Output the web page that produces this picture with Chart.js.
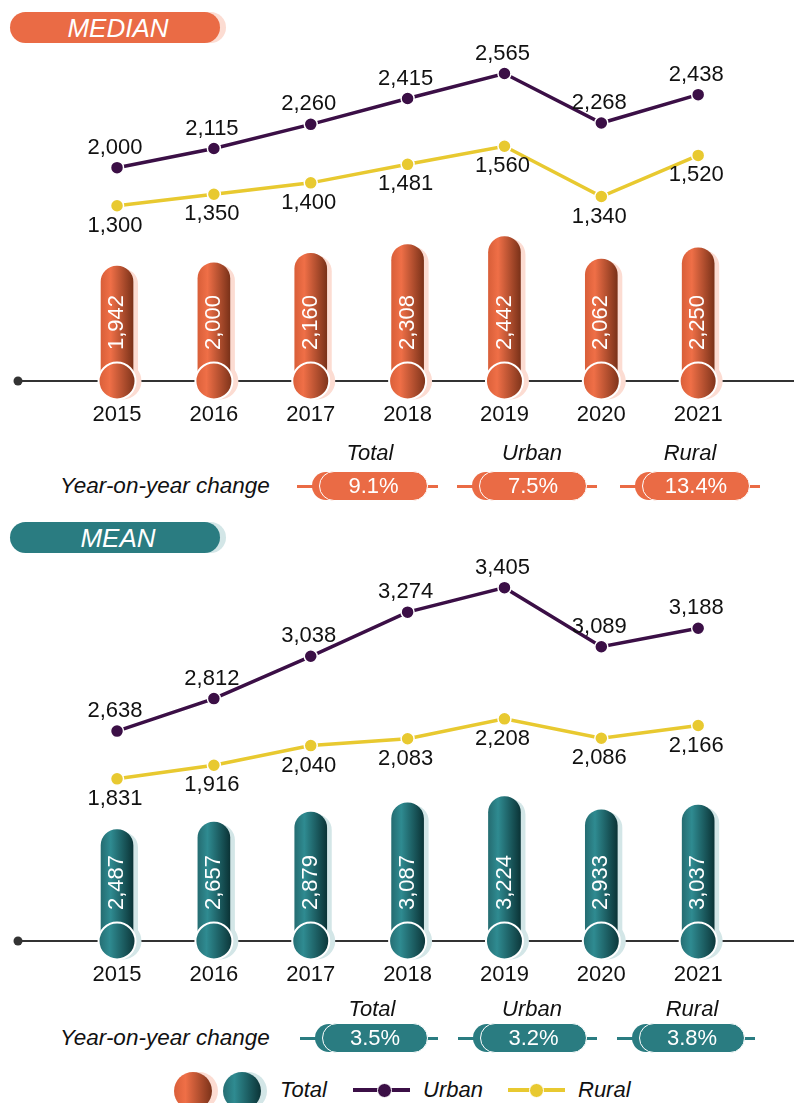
<!DOCTYPE html>
<html>
<head>
<meta charset="utf-8">
<script src="https://cdn.jsdelivr.net/npm/chart.js@4.4.1/dist/chart.umd.min.js"></script>
<style>
  body { margin: 0; background: #fff; font-family: 'Liberation Sans', Arial, sans-serif; }
  #page { position: relative; width: 794px; height: 1103px; overflow: hidden; }
  canvas { position: absolute; left: 0; }
  .title { position: absolute; left: 10px; width: 210px; height: 31px; border-radius: 16px; color: #fff;
           font-style: italic; font-size: 26px; line-height: 32px; text-align: center; box-sizing: border-box; padding-left: 6px; }
  .yoy { position: absolute; font-style: italic; font-size: 22.5px; color: #111; line-height: 26px; }
  .head { position: absolute; width: 100px; margin-left: -50px; text-align: center; font-style: italic; font-size: 22px; color: #111; line-height: 26px; }
  .bar { position: absolute; height: 3px; }
  .pill { position: absolute; height: 28px; border-radius: 14px; }
  .front { position: absolute; height: 30px; border-radius: 15px; border: 1.5px solid #fff; box-sizing: border-box;
           color: #fff; font-size: 22px; line-height: 27px; text-align: center; }
  .dot { position: absolute; border-radius: 50%; }
  .lg { position: absolute; font-style: italic; font-size: 22px; color: #111; line-height: 26px; }
</style>
</head>
<body>
<div id="page">
  <div class="title" style="top:12px;background:#ea6b45;box-shadow:6px 0 0 #fcdcd2;">MEDIAN</div>
  <canvas id="median" width="794" height="418" style="top:40px;width:794px;height:418px;"></canvas>
  <div class="title" style="top:522px;background:#2a7c81;box-shadow:6px 0 0 #d3e6e7;">MEAN</div>
  <canvas id="mean" width="794" height="468" style="top:550px;width:794px;height:468px;"></canvas>
</div>
<script>
// data
const years = ['2015', '2016', '2017', '2018', '2019', '2020', '2021'];
const medianTotal = [1942, 2000, 2160, 2308, 2442, 2062, 2250];
const medianUrban = [2000, 2115, 2260, 2415, 2565, 2268, 2438];
const medianRural = [1300, 1350, 1400, 1481, 1560, 1340, 1520];
const meanTotal = [2487, 2657, 2879, 3087, 3224, 2933, 3037];
const meanUrban = [2638, 2812, 3038, 3274, 3405, 3089, 3188];
const meanRural = [1831, 1916, 2040, 2083, 2208, 2086, 2166];
const changeNames = ['Total', 'Urban', 'Rural'];
const medianChange = ['9.1%', '7.5%', '13.4%'];
const meanChange = ['3.5%', '3.2%', '3.8%'];

const orange = { solid: '#ea6b45', shade: '#fcdcd2', stops: ['#d95f39', '#ef6f47', '#7b3219'] };
const teal = { solid: '#2a7c81', shade: '#d3e6e7', stops: ['#256d72', '#2f8b91', '#0b3437'] };
const urbanColor = '#3b0f46';
const ruralColor = '#e8c930';

Chart.defaults.font.family = "'Liberation Sans', Arial, sans-serif";

function grad(ctx, x, r, stops) {
  const g = ctx.createLinearGradient(x - r, 0, x + r, 0);
  g.addColorStop(0, stops[0]);
  g.addColorStop(0.3, stops[1]);
  g.addColorStop(1, stops[2]);
  return g;
}

const fmt = v => v.toLocaleString('en-US');

// axis line, capsule shadows, base circles and value labels
const capsulePlugin = {
  id: 'capsules',
  beforeDatasetsDraw(chart, args, opts) {
    const { ctx, chartArea } = chart;
    const base = chartArea.bottom;
    ctx.save();
    ctx.strokeStyle = '#333';
    ctx.lineWidth = 2;
    ctx.beginPath();
    ctx.moveTo(18, base);
    ctx.lineTo(chart.width, base);
    ctx.stroke();
    ctx.fillStyle = '#333';
    ctx.beginPath();
    ctx.arc(18, base, 4.5, 0, Math.PI * 2);
    ctx.fill();

    ctx.fillStyle = opts.theme.shade;
    chart.getDatasetMeta(0).data.forEach(bar => {
      const x = bar.x + 5, w = bar.width / 2, top = bar.y + 2;
      ctx.beginPath();
      ctx.moveTo(x - w, base);
      ctx.lineTo(x - w, top + w);
      ctx.arc(x, top + w, w, Math.PI, 0);
      ctx.lineTo(x + w, base);
      ctx.closePath();
      ctx.fill();
      ctx.beginPath();
      ctx.arc(x + 1, base, 18.5, 0, Math.PI * 2);
      ctx.fill();
    });
    ctx.restore();
  },
  afterDatasetsDraw(chart, args, opts) {
    const { ctx, chartArea } = chart;
    const base = chartArea.bottom;
    ctx.save();
    const bars = chart.getDatasetMeta(0);
    bars.data.forEach((bar, i) => {
      ctx.beginPath();
      ctx.arc(bar.x, base, 18.5, 0, Math.PI * 2);
      ctx.fillStyle = grad(ctx, bar.x, 18.5, opts.theme.stops);
      ctx.fill();
      ctx.strokeStyle = '#fff';
      ctx.lineWidth = 2;
      ctx.stroke();

      ctx.save();
      ctx.translate(bar.x, base - 31);
      ctx.rotate(-Math.PI / 2);
      ctx.fillStyle = '#fff';
      ctx.font = "22px 'Liberation Sans', Arial, sans-serif";
      ctx.textAlign = 'left';
      ctx.textBaseline = 'middle';
      ctx.fillText(fmt(chart.data.datasets[0].data[i]), 0, 0);
      ctx.restore();
    });

    ctx.fillStyle = '#111';
    ctx.font = "22px 'Liberation Sans', Arial, sans-serif";
    ctx.textAlign = 'center';
    ctx.textBaseline = 'middle';
    [1, 2].forEach(d => {
      const off = d === 1 ? -20 : 20;
      chart.getDatasetMeta(d).data.forEach((pt, i) => {
        ctx.fillText(fmt(chart.data.datasets[d].data[i]), pt.x - 2, pt.y + off);
      });
    });
    ctx.restore();
  }
};

function makeChart(id, total, urban, rural, theme, r) {
  return new Chart(document.getElementById(id), {
    type: 'bar',
    data: {
      labels: years,
      datasets: [
        {
          label: 'Total', data: total, yAxisID: 'yT', order: 3,
          barThickness: 32, borderSkipped: false,
          borderRadius: { topLeft: 16, topRight: 16, bottomLeft: 0, bottomRight: 0 },
          backgroundColor: c => {
            const ch = c.chart;
            if (!ch.chartArea) return theme.solid;
            return grad(ch.ctx, ch.scales.x.getPixelForValue(c.dataIndex), 16, theme.stops);
          }
        },
        {
          type: 'line', label: 'Urban', data: urban, yAxisID: 'yU', order: 1,
          borderColor: urbanColor, borderWidth: 3.5, pointRadius: 6.5,
          pointBackgroundColor: urbanColor, pointBorderColor: '#fff', pointBorderWidth: 1.5
        },
        {
          type: 'line', label: 'Rural', data: rural, yAxisID: 'yR', order: 2,
          borderColor: ruralColor, borderWidth: 3.5, pointRadius: 6.5,
          pointBackgroundColor: ruralColor, pointBorderColor: '#fff', pointBorderWidth: 1.5
        }
      ]
    },
    options: {
      responsive: false,
      animation: false,
      layout: { padding: { left: 68.6, right: 47.4, top: 5, bottom: 8.6 } },
      plugins: { legend: { display: false }, tooltip: { enabled: false }, capsules: { theme: theme } },
      scales: {
        x: {
          grid: { display: false, drawTicks: false },
          border: { display: false },
          ticks: { padding: 21, color: '#111', font: { size: 22 } }
        },
        yT: { display: false, min: 0, max: r.t },
        yU: { display: false, min: r.u[0], max: r.u[1] },
        yR: { display: false, min: r.r[0], max: r.r[1] }
      }
    },
    plugins: [capsulePlugin]
  });
}

makeChart('median', medianTotal, medianUrban, medianRural, orange,
  { t: 5630, u: [720, 2718], r: [533, 1990] });
makeChart('mean', meanTotal, meanUrban, meanRural, teal,
  { t: 8556, u: [1516, 3563.5], r: [812, 3218.5] });

// year-on-year rows
const page = document.getElementById('page');
function add(cls, css, text) {
  const el = document.createElement('div');
  el.className = cls;
  el.style.cssText = css;
  if (text) el.textContent = text;
  page.appendChild(el);
  return el;
}
function changeRow(headY, pillY, values, theme, lefts, rights, heads) {
  add('yoy', `left:60px;top:${pillY - 13}px;`, 'Year-on-year change');
  values.forEach((v, i) => {
    const L = lefts[i], R = rights[i];
    add('head', `left:${heads[i]}px;top:${headY - 13}px;`, changeNames[i]);
    add('bar', `left:${L}px;width:${R - L}px;top:${pillY - 1.5}px;background:${theme.solid};`);
    add('pill', `left:${L + 15}px;width:70px;top:${pillY - 14}px;background:${theme.solid};`);
    add('front', `left:${L + 22}px;width:${R - L - 32}px;top:${pillY - 15}px;background:${theme.solid};`, v);
  });
}
changeRow(453, 486, medianChange, orange, [297, 457, 620], [438, 597, 760], [370, 532, 690]);
changeRow(1009, 1038, meanChange, teal, [300, 458, 617], [438, 597, 755], [372, 532, 692]);

// legend
add('dot', `left:174px;top:1072px;width:38px;height:38px;background:linear-gradient(to right,${orange.stops[0]},${orange.stops[1]} 30%,${orange.stops[2]});box-shadow:6px 0 0 ${orange.shade};`);
add('dot', `left:223px;top:1072px;width:38px;height:38px;background:linear-gradient(to right,${teal.stops[0]},${teal.stops[1]} 30%,${teal.stops[2]});box-shadow:6px 0 0 ${teal.shade};`);
add('lg', 'left:280px;top:1077px;', 'Total');
add('bar', `left:353px;width:57px;top:1088px;height:4px;background:${urbanColor};`);
add('dot', `left:377px;top:1083px;width:15px;height:15px;background:${urbanColor};border:1.5px solid #fff;box-sizing:border-box;`);
add('lg', 'left:423px;top:1077px;', 'Urban');
add('bar', `left:508px;width:57px;top:1088px;height:4px;background:${ruralColor};`);
add('dot', `left:529px;top:1083px;width:15px;height:15px;background:${ruralColor};border:1.5px solid #fff;box-sizing:border-box;`);
add('lg', 'left:578px;top:1077px;', 'Rural');
</script>
</body>
</html>
